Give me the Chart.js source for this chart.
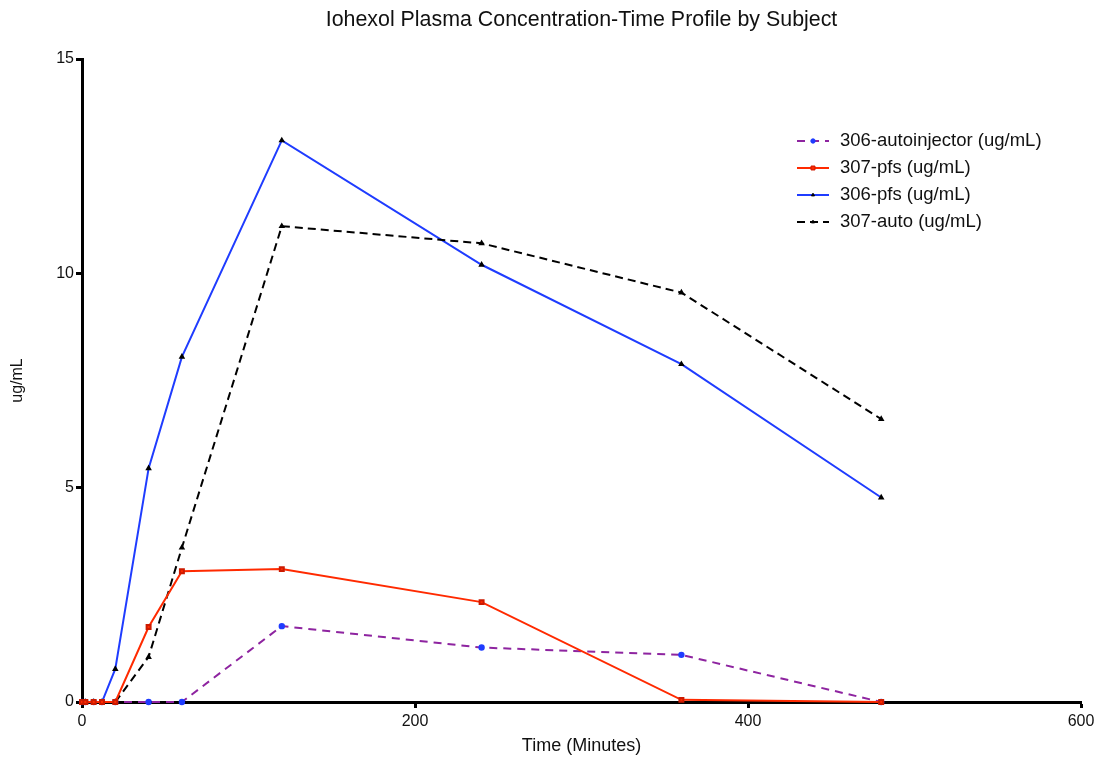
<!DOCTYPE html>
<html>
<head>
<meta charset="utf-8">
<script src="https://cdn.jsdelivr.net/npm/chart.js@4/dist/chart.umd.min.js"></script>
<style>
  html, body { margin: 0; padding: 0; background: #fff; }
  #wrap { width: 1099px; height: 761px; }
</style>
</head>
<body>
<div id="wrap"><canvas id="pk-chart"></canvas></div>
<script>
var times = [0, 2, 7, 12, 20, 40, 60, 120, 240, 360, 480];
var seriesLabels = ['306-autoinjector (ug/mL)', '307-pfs (ug/mL)', '306-pfs (ug/mL)', '307-auto (ug/mL)'];
var auto306 = [0, 0, 0, 0, 0, 0, 0, 1.77, 1.27, 1.1, 0];
var pfs307 = [0, 0, 0, 0, 0, 1.75, 3.05, 3.1, 2.33, 0.05, 0];
var pfs306 = [0, 0, 0, 0, 0.77, 5.45, 8.05, 13.1, 10.2, 7.88, 4.77];
var auto307 = [null, null, null, null, 0, 1.05, 3.6, 11.1, 10.7, 9.55, 6.6];
var xTicks = [0, 200, 400, 600];
var yTicks = [0, 5, 10, 15];
var chartTitle = 'Iohexol Plasma Concentration-Time Profile by Subject';

function pts(vals) {
  return times.map(function (t, i) { return { x: t, y: vals[i] }; }).filter(function (p) { return p.y !== null; });
}

var FONT = "'Liberation Sans', Arial, sans-serif";

// title centred over the plot area, legend inside the plot top right
var decorations = {
  id: 'decorations',
  afterDraw: function (chart) {
    var ctx = chart.ctx;
    var area = chart.chartArea;
    ctx.save();
    ctx.fillStyle = '#111';
    ctx.font = '21.4px ' + FONT;
    ctx.textAlign = 'center';
    ctx.textBaseline = 'middle';
    ctx.fillText(chartTitle, (area.left + area.right) / 2, 20);

    var x0 = 797, y0 = 141, gap = 27;
    chart.data.datasets.forEach(function (ds, i) {
      var y = y0 + i * gap;
      ctx.beginPath();
      ctx.setLineDash(ds.borderDash || []);
      ctx.strokeStyle = ds.borderColor;
      ctx.lineWidth = ds.borderWidth;
      ctx.moveTo(x0, y);
      ctx.lineTo(x0 + 32, y);
      ctx.stroke();
      ctx.setLineDash([]);
      ctx.fillStyle = ds.pointBackgroundColor;
      ctx.strokeStyle = ds.pointBorderColor;
      ctx.lineWidth = 1;
      Chart.helpers.drawPoint(ctx, {
        pointStyle: ds.pointStyle,
        radius: ds.pointRadius,
        borderWidth: 1
      }, x0 + 16, y);
      ctx.fillStyle = '#111';
      ctx.font = '18.5px ' + FONT;
      ctx.textBaseline = 'middle';
      ctx.textAlign = 'left';
      ctx.fillText(ds.label, x0 + 43, y);
    });
    ctx.restore();
  }
};

var config = {
  type: 'line',
  data: {
    datasets: [
      {
        label: seriesLabels[0],
        data: pts(auto306),
        borderColor: '#8e24a0',
        borderWidth: 2,
        borderDash: [8, 6],
        pointStyle: 'circle',
        pointRadius: 2.2,
        pointBackgroundColor: '#1f3cff',
        pointBorderColor: '#1f3cff',
        order: 3
      },
      {
        label: seriesLabels[1],
        data: pts(pfs307),
        borderColor: '#ff2a00',
        borderWidth: 2,
        pointStyle: 'rect',
        pointRadius: 2.8,
        pointBackgroundColor: '#ff2a00',
        pointBorderColor: '#cc1a00',
        order: 0
      },
      {
        label: seriesLabels[2],
        data: pts(pfs306),
        borderColor: '#1f3cff',
        borderWidth: 2,
        pointStyle: 'triangle',
        pointRadius: 1.8,
        pointBackgroundColor: '#000',
        pointBorderColor: '#000',
        order: 2
      },
      {
        label: seriesLabels[3],
        data: pts(auto307),
        borderColor: '#000',
        borderWidth: 2,
        borderDash: [8, 5],
        pointStyle: 'triangle',
        pointRadius: 1.8,
        pointBackgroundColor: '#000',
        pointBorderColor: '#000',
        order: 1
      }
    ]
  },
  options: {
    responsive: true,
    maintainAspectRatio: false,
    animation: false,
    clip: false,
    layout: { padding: { left: 0, right: 18, top: 59, bottom: 0 } },
    plugins: {
      legend: { display: false },
      tooltip: { enabled: false },
      title: { display: false }
    },
    scales: {
      x: {
        type: 'linear',
        min: 0,
        max: 600,
        afterBuildTicks: function (s) { s.ticks = xTicks.map(function (v) { return { value: v }; }); },
        afterFit: function (s) { s.height = 59; },
        border: { color: '#000', width: 3 },
        grid: { display: true, drawOnChartArea: false, drawTicks: true, tickLength: 6, tickWidth: 3, tickColor: '#000' },
        ticks: { color: '#111', font: { family: FONT, size: 16 }, padding: 4, maxRotation: 0 },
        title: { display: true, text: 'Time (Minutes)', color: '#111', font: { family: FONT, size: 18 }, padding: { top: 2, bottom: 4 } }
      },
      y: {
        type: 'linear',
        min: 0,
        max: 15,
        afterBuildTicks: function (s) { s.ticks = yTicks.map(function (v) { return { value: v }; }); },
        afterFit: function (s) { s.width = 82; },
        border: { color: '#000', width: 3 },
        grid: { display: true, drawOnChartArea: false, drawTicks: true, tickLength: 6, tickWidth: 3, tickColor: '#000' },
        ticks: { color: '#111', font: { family: FONT, size: 16 }, padding: 2 },
        title: { display: true, text: 'ug/mL', color: '#111', font: { family: FONT, size: 16 }, padding: { top: 8, bottom: 4 } }
      }
    }
  },
  plugins: [decorations]
};

var ctx = document.getElementById('pk-chart').getContext('2d');
var pkChart = new Chart(ctx, config);
</script>
</body>
</html>
